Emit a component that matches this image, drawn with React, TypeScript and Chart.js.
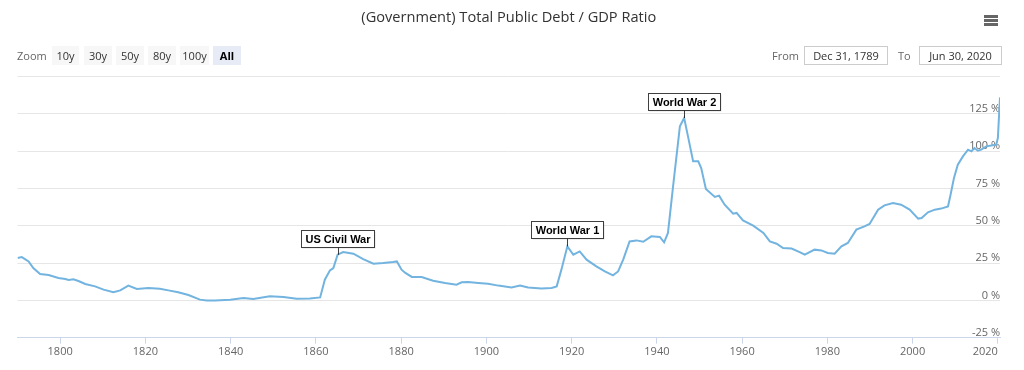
import React, { useEffect, useRef } from "react";
import { Chart, registerables } from "chart.js";

Chart.register(...registerables);

const FONT = "'Open Sans', 'DejaVu Sans', sans-serif";

const chartTitle = "(Government) Total Public Debt / GDP Ratio";

const years = [
  1790.0, 1791.0, 1792.6, 1793.7, 1795.3, 1797.3, 1799.6, 1801.2, 1802.0, 1803.1,
  1804.3, 1805.9, 1808.2, 1810.2, 1812.5, 1814.1, 1816.0, 1818.0, 1820.7, 1823.4,
  1825.4, 1827.7, 1830.1, 1832.8, 1834.4, 1836.3, 1839.9, 1843.0, 1845.3, 1849.2,
  1852.4, 1855.5, 1858.6, 1861.0, 1862.1, 1863.3, 1864.1, 1865.1, 1866.4, 1868.8,
  1871.1, 1873.5, 1875.8, 1878.1, 1879.0, 1880.1, 1881.0, 1882.5, 1884.8, 1887.5,
  1890.3, 1893.0, 1894.2, 1895.7, 1898.1, 1900.4, 1902.8, 1905.9, 1907.9, 1909.8,
  1912.9, 1915.3, 1916.5, 1917.6, 1919.0, 1920.4, 1921.9, 1923.5, 1925.8, 1927.8,
  1929.7, 1930.9, 1932.1, 1933.6, 1935.2, 1936.8, 1938.7, 1940.7, 1941.7, 1942.6,
  1943.8, 1945.4, 1946.4, 1947.3, 1948.5, 1949.7, 1950.4, 1951.5, 1953.6, 1954.6,
  1955.9, 1957.9, 1958.7, 1960.2, 1962.6, 1965.0, 1966.5, 1968.1, 1969.6, 1971.6,
  1973.5, 1974.7, 1977.0, 1978.6, 1980.1, 1981.7, 1983.3, 1984.8, 1986.8, 1988.7,
  1989.9, 1991.9, 1993.4, 1995.4, 1997.3, 1999.3, 2001.3, 2002.1, 2003.6, 2005.2,
  2006.7, 2008.3, 2008.9, 2009.7, 2010.6, 2011.8, 2013.0, 2013.8, 2014.5, 2015.3,
  2016.1, 2017.3, 2018.8, 2019.6, 2020.0, 2020.5,
];

const debtRatio = [
  28.4, 29.0, 26.1, 21.7, 17.7, 17.0, 15.0, 14.3, 13.7, 14.1,
  13.0, 11.0, 9.4, 7.2, 5.4, 6.7, 9.9, 7.6, 8.3, 7.8,
  6.7, 5.4, 3.6, 0.5, 0.0, 0.0, 0.5, 1.6, 0.9, 2.7,
  2.3, 1.1, 1.3, 2.0, 13.9, 20.1, 21.7, 30.6, 32.4, 31.3,
  27.7, 24.6, 25.0, 25.7, 26.1, 20.6, 18.4, 15.7, 15.7, 13.2,
  11.7, 10.5, 12.1, 12.3, 11.7, 11.2, 9.9, 8.7, 9.9, 8.7,
  8.0, 8.3, 9.4, 20.6, 36.2, 30.6, 32.8, 27.3, 22.8, 19.4,
  16.8, 19.4, 27.3, 39.5, 40.2, 39.3, 42.9, 42.5, 38.9, 45.2,
  76.4, 116.6, 122.2, 109.9, 93.2, 93.2, 88.7, 74.7, 69.3, 70.2,
  64.1, 58.1, 58.6, 53.6, 50.1, 45.2, 39.5, 38.0, 35.1, 34.7,
  32.4, 30.6, 34.0, 33.5, 31.8, 31.3, 36.2, 38.5, 47.4, 49.6,
  51.2, 60.8, 63.7, 65.3, 64.1, 60.8, 54.8, 55.2, 59.0, 60.8,
  61.5, 63.0, 70.8, 82.0, 90.9, 96.5, 101.0, 99.9, 102.1, 100.3,
  101.0, 103.2, 103.9, 104.3, 108.8, 136.0,
];

const startYear = 1789.997;
const endYear = 2020.5;
const xTickYears = [1800, 1820, 1840, 1860, 1880, 1900, 1920, 1940, 1960, 1980, 2000, 2020];
const yTicks = [-25, 0, 25, 50, 75, 100, 125, 150];

const annotationLabels = ["US Civil War", "World War 1", "World War 2"];
const annotationYears = [1865.1, 1919.0, 1946.4];
const annotationValues = [30.6, 36.2, 122.2];

const zoomLabel = "Zoom";
const zoomButtons = ["10y", "30y", "50y", "80y", "100y", "All"];
const selectedButton = "All";
const fromLabel = "From";
const toLabel = "To";
const rangeFrom = "Dec 31, 1789";
const rangeTo = "Jun 30, 2020";

const annotationPlugin = {
  id: "warAnnotations",
  afterDatasetsDraw(chart: any) {
    const { ctx, scales } = chart;
    const xs = scales.x;
    const ys = scales.y;
    ctx.save();
    ctx.font = "bold 11px 'Liberation Sans', Arial, sans-serif";
    annotationLabels.forEach((label, i) => {
      const px = xs.getPixelForValue(annotationYears[i]);
      const py = ys.getPixelForValue(annotationValues[i]);
      const tw = ctx.measureText(label).width;
      const bw = Math.round(tw + 8);
      const bh = 17;
      const bx = Math.round(px - bw / 2) + 0.5;
      const by = Math.round(py - 8 - bh) + 0.5;
      ctx.strokeStyle = "rgba(0,0,0,0.75)";
      ctx.lineWidth = 1;
      ctx.beginPath();
      ctx.moveTo(Math.round(px) + 0.5, by + bh);
      ctx.lineTo(Math.round(px) + 0.5, py);
      ctx.stroke();
      ctx.fillStyle = "rgba(0,0,0,0.12)";
      ctx.fillRect(bx + 1, by + 1, bw, bh);
      ctx.fillStyle = "#ffffff";
      ctx.fillRect(bx, by, bw, bh);
      ctx.strokeStyle = "rgba(0,0,0,0.75)";
      ctx.strokeRect(bx, by, bw, bh);
      ctx.fillStyle = "#000000";
      ctx.textAlign = "center";
      ctx.textBaseline = "middle";
      ctx.fillText(label, bx + bw / 2, by + bh / 2 + 0.5);
    });
    ctx.restore();
  },
};

function App() {
  const canvasRef = useRef<HTMLCanvasElement | null>(null);

  useEffect(() => {
    if (!canvasRef.current) return;
    const chart = new Chart(canvasRef.current, {
      type: "line",
      data: {
        datasets: [
          {
            data: years.map((x, i) => ({ x, y: debtRatio[i] })),
            borderColor: "#72b4df",
            borderWidth: 2,
            pointRadius: 0,
            tension: 0,
            fill: false,
          },
        ],
      },
      options: {
        animation: false,
        responsive: false,
        maintainAspectRatio: false,
        devicePixelRatio: 1,
        layout: { padding: { left: 17.5, right: 24, top: 0, bottom: 0 } },
        plugins: {
          legend: { display: false },
          tooltip: { enabled: false },
          title: {
            display: true,
            text: chartTitle,
            color: "#333333",
            font: { family: FONT, size: 14.6, weight: "normal", lineHeight: 1.2 },
            padding: { top: 8.7, bottom: 50.3 },
          },
        },
        scales: {
          x: {
            type: "linear",
            min: startYear,
            max: endYear,
            afterBuildTicks: (s: any) => {
              s.ticks = [startYear, ...xTickYears].map((v) => ({ value: v }));
            },
            afterFit: (s: any) => {
              s.height = 32.3;
            },
            grid: {
              drawOnChartArea: false,
              drawTicks: true,
              tickLength: 6,
              tickColor: (c: any) =>
                c.tick && c.tick.value === startYear ? "rgba(0,0,0,0)" : "#ccd6eb",
            },
            border: { display: true, color: "#ccd6eb" },
            ticks: {
              align: "inner",
              autoSkip: false,
              maxRotation: 0,
              padding: 2,
              color: "#666666",
              font: { family: FONT, size: 11 },
              callback: (v: any) => (xTickYears.includes(v) ? String(v) : ""),
            },
          },
          y: {
            position: "right",
            min: -25,
            max: 150,
            afterBuildTicks: (s: any) => {
              s.ticks = yTicks.map((v) => ({ value: v }));
            },
            grid: { color: "#e6e6e6", drawTicks: false },
            border: { display: false },
            ticks: {
              mirror: true,
              padding: 0,
              labelOffset: -5,
              color: "#666666",
              font: { family: FONT, size: 11 },
              callback: (v: any) => (v === 150 ? "" : `${v} %`),
            },
          },
        },
      },
      plugins: [annotationPlugin],
    } as any);
    return () => chart.destroy();
  }, []);

  const btnLefts = [52, 84, 116, 148, 180, 213];
  const btnWidths = [27, 28, 28, 28, 29, 28];

  return (
    <div
      style={{
        position: "fixed",
        left: 0,
        top: 0,
        width: 1024,
        height: 370,
        background: "#ffffff",
        fontFamily: FONT,
        overflow: "hidden",
      }}
    >
      <canvas ref={canvasRef} width={1024} height={370} style={{ position: "absolute", left: 0, top: 0 }} />
      <div style={{ position: "absolute", left: 17, top: 46, height: 19, lineHeight: "19px", fontSize: 11, color: "#666666" }}>
        {zoomLabel}
      </div>
      {zoomButtons.map((b, i) => (
        <div
          key={b}
          style={{
            position: "absolute",
            left: btnLefts[i],
            top: 46,
            width: btnWidths[i],
            height: 19,
            lineHeight: "19px",
            textAlign: "center",
            fontSize: 11,
            background: b === selectedButton ? "#e6ebf5" : "#f7f7f7",
            color: b === selectedButton ? "#000000" : "#333333",
            fontWeight: b === selectedButton ? "bold" : "normal",
          }}
        >
          {b}
        </div>
      ))}
      <div style={{ position: "absolute", left: 772, top: 46, height: 19, lineHeight: "19px", fontSize: 11, color: "#666666" }}>
        {fromLabel}
      </div>
      <div
        style={{
          position: "absolute",
          left: 804,
          top: 46,
          width: 82,
          height: 17,
          lineHeight: "17px",
          border: "1px solid #cccccc",
          textAlign: "center",
          fontSize: 11,
          color: "#333333",
        }}
      >
        {rangeFrom}
      </div>
      <div style={{ position: "absolute", left: 898, top: 46, height: 19, lineHeight: "19px", fontSize: 11, color: "#666666" }}>
        {toLabel}
      </div>
      <div
        style={{
          position: "absolute",
          left: 919,
          top: 46,
          width: 81,
          height: 17,
          lineHeight: "17px",
          border: "1px solid #cccccc",
          textAlign: "center",
          fontSize: 11,
          color: "#333333",
        }}
      >
        {rangeTo}
      </div>
      {[15, 19, 23].map((t) => (
        <div key={t} style={{ position: "absolute", left: 984, top: t, width: 14, height: 2.5, background: "#666666" }} />
      ))}
    </div>
  );
}

export default App;
